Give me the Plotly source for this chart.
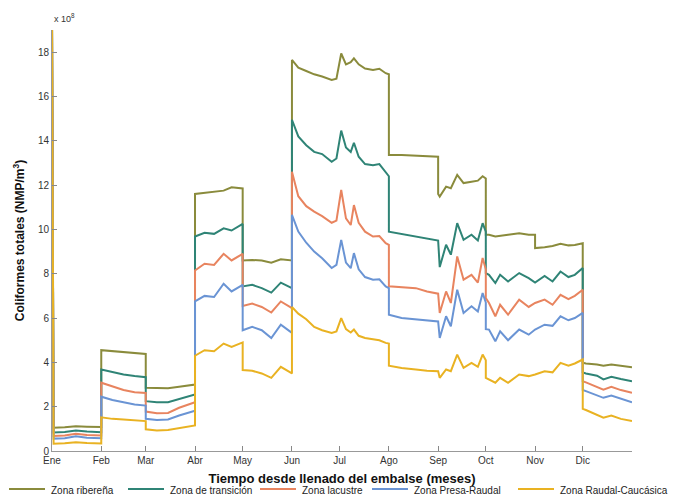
import plotly.graph_objects as go

days = [0, 1, 8, 15, 22, 31,
        31, 38, 45, 52, 59,
        59, 66, 73, 80, 90,
        90, 96, 102, 108, 113, 120,
        120, 126, 132, 138, 144, 151,
        151, 155, 160, 165, 170, 176, 179,
        182, 185, 188, 190, 193, 197, 202, 206, 210, 212,
        212, 220, 229, 236, 243,
        243, 244, 248, 251, 255, 259, 264, 268, 271, 273,
        273, 275, 279, 282, 287, 294, 300, 304,
        304, 310, 315, 320, 325, 329, 334,
        334, 336, 343, 347, 352, 358, 365]

ribera = [19.5, 1.05, 1.07, 1.12, 1.1, 1.08,
          4.55, 4.5, 4.45, 4.42, 4.38,
          2.85, 2.85, 2.83, 2.9, 3.0,
          11.6, 11.65, 11.7, 11.75, 11.9, 11.85,
          8.6, 8.62, 8.6, 8.5, 8.65, 8.6,
          17.65, 17.3, 17.15, 17.0, 16.9, 16.75, 16.8,
          17.94, 17.45, 17.55, 17.72, 17.45, 17.26, 17.2, 17.25, 17.05, 17.0,
          13.36, 13.36, 13.34, 13.32, 13.28,
          11.6, 11.48, 11.93, 11.86, 12.46, 12.09, 12.15, 12.2, 12.4, 12.3,
          9.76, 9.76, 9.68, 9.72, 9.76, 9.83, 9.76, 9.76,
          9.16, 9.2, 9.25, 9.35, 9.28, 9.3, 9.38,
          3.98, 3.95, 3.9, 3.85, 3.9, 3.85, 3.78]

transicion = [19.5, 0.84, 0.86, 0.92, 0.88, 0.85,
              3.68, 3.55, 3.45, 3.38, 3.33,
              2.25, 2.2, 2.2, 2.35, 2.55,
              9.68, 9.85, 9.8, 10.05, 9.95, 10.25,
              7.43, 7.5, 7.35, 7.15, 7.6, 7.35,
              14.95, 14.2, 13.8, 13.5, 13.4, 13.05, 13.2,
              14.46, 13.7, 13.5, 13.91, 13.28, 12.95, 12.9, 12.95, 12.55, 12.4,
              9.9, 9.8, 9.68, 9.6, 9.53,
              9.5, 8.3, 9.31, 8.86, 10.28, 9.53, 9.76, 9.5, 10.28, 9.9,
              8.03, 7.95, 7.58, 7.95, 7.65, 8.03, 7.8, 7.6,
              7.6, 7.9, 7.65, 8.1, 7.85, 7.95, 8.26,
              3.55, 3.5, 3.4, 3.23, 3.35, 3.25, 3.15]

lacustre = [19.5, 0.68, 0.7, 0.78, 0.72, 0.7,
            3.08, 2.9, 2.75, 2.65, 2.62,
            1.78, 1.7, 1.72, 1.95, 2.2,
            8.15, 8.45, 8.4, 8.9, 8.6, 8.9,
            6.55, 6.65, 6.5, 6.25, 6.75, 6.45,
            12.6, 11.5, 11.05, 10.8, 10.6, 10.3, 10.4,
            11.78, 10.5, 10.2, 11.1, 10.3, 9.9, 9.68, 9.7, 9.38, 9.3,
            7.43, 7.4, 7.35, 7.2, 7.13,
            7.1, 6.23, 7.2, 6.68, 8.78, 7.73, 7.95, 7.6, 8.71, 8.2,
            6.9, 6.68, 6.08, 6.6, 6.15, 6.83, 6.5, 6.68,
            6.68, 6.83, 6.6, 7.05, 6.85, 7.0, 7.28,
            3.15, 3.1, 2.9, 2.77, 2.9, 2.75, 2.63]

presa_raudal = [19.5, 0.56, 0.58, 0.66, 0.6, 0.58,
                2.45, 2.3, 2.2, 2.1, 2.05,
                1.45, 1.4, 1.42, 1.6, 1.82,
                6.75, 7.0, 6.95, 7.55, 7.2, 7.5,
                5.45, 5.6, 5.45, 5.1, 5.7, 5.33,
                10.66, 9.9, 9.4, 9.0, 8.7, 8.26, 8.4,
                9.53, 8.5, 8.25, 8.93, 8.2, 7.85, 7.73, 7.75, 7.43, 7.35,
                6.15, 6.0, 5.93, 5.9, 5.85,
                5.85, 5.1, 6.08, 5.63, 7.28, 6.23, 6.53, 6.3, 7.13, 6.7,
                5.5, 5.48, 4.95, 5.4, 5.0, 5.48, 5.25, 5.48,
                5.48, 5.7, 5.65, 6.08, 5.9, 6.0, 6.23,
                2.75, 2.7, 2.52, 2.4, 2.5, 2.35, 2.2]

raudal_caucasica = [19.5, 0.33, 0.35, 0.4, 0.36, 0.34,
                    1.52, 1.45, 1.42, 1.38, 1.35,
                    0.98, 0.93, 0.95, 1.02, 1.15,
                    4.3, 4.55, 4.5, 4.85, 4.7, 4.9,
                    3.65, 3.62, 3.5, 3.3, 3.8, 3.5,
                    6.5, 6.2, 5.95, 5.6, 5.45, 5.33, 5.4,
                    6.0, 5.5, 5.35, 5.48, 5.2, 5.1, 5.03, 5.0, 4.88, 4.85,
                    3.85, 3.75, 3.68, 3.62, 3.6,
                    3.6, 3.3, 3.68, 3.6, 4.35, 3.75, 3.98, 3.8, 4.35, 4.1,
                    3.3, 3.23, 3.08, 3.3, 3.08, 3.45, 3.38, 3.45,
                    3.45, 3.6, 3.55, 3.98, 3.85, 3.95, 4.13,
                    1.9, 1.85, 1.65, 1.5, 1.6, 1.45, 1.35]

series_names = ["Zona ribereña", "Zona de transición", "Zona lacustre",
                "Zona Presa-Raudal", "Zona Raudal-Caucásica"]
series_colors = ["#8a8b3c", "#2f8476", "#e8845f", "#6a94d4", "#e9b222"]

month_days = [0, 31, 59, 90, 120, 151, 181, 212, 243, 273, 304, 334]
month_labels = ["Ene", "Feb", "Mar", "Abr", "May", "Jun", "Jul", "Ago",
                "Sep", "Oct", "Nov", "Dic"]
y_ticks = [0, 2, 4, 6, 8, 10, 12, 14, 16, 18]

W, H = 683, 497
ML, MR, MT, MB = 52, 51, 30, 46
PW, PH = W - ML - MR, H - MT - MB

fig = go.Figure()
for name, vals, col in zip(series_names,
                           [ribera, transicion, lacustre, presa_raudal, raudal_caucasica],
                           series_colors):
    fig.add_trace(go.Scatter(x=days, y=vals, mode="lines", name=name,
                             line=dict(color=col, width=2)))

font_family = "Liberation Sans, Arial, sans-serif"
fig.update_layout(
    width=W, height=H,
    margin=dict(l=ML, r=MR, t=MT, b=MB, autoexpand=False),
    paper_bgcolor="white", plot_bgcolor="white",
    font=dict(family=font_family, size=10, color="#222"),
    showlegend=False,
)
fig.update_xaxes(range=[0, 365], tickmode="array", tickvals=month_days,
                 ticktext=month_labels, ticks="inside", ticklen=5,
                 tickcolor="#888", showline=True, linecolor="#999",
                 linewidth=1, showgrid=False, zeroline=False,
                 tickfont=dict(size=10, color="#333"),
                 title=dict(text="<b>Tiempo desde llenado del embalse (meses)</b>",
                            font=dict(size=13, color="#111"), standoff=8))
fig.update_yaxes(range=[0, 19], tickmode="array", tickvals=y_ticks,
                 ticks="inside", ticklen=5, tickcolor="#888",
                 showline=True, linecolor="#999", linewidth=1,
                 showgrid=False, zeroline=False,
                 tickfont=dict(size=10, color="#333"),
                 title=dict(text="<b>Coliformes totales (NMP/m<sup>3</sup>)</b>",
                            font=dict(size=12, color="#111"), standoff=10))
fig.add_annotation(text="x 10<sup>8</sup>", xref="paper", yref="paper",
                   x=0.0, y=1.0, xanchor="left", yanchor="bottom",
                   yshift=4, showarrow=False, font=dict(size=9, color="#333"))

# legend drawn below the axes (pixel layout converted to paper coordinates)
legend_line_px = [9, 128, 260, 372, 518]
line_len = 36
line_y = ((H - MB) - 489) / PH
text_y = ((H - MB) - 490) / PH
for name, col, lx in zip(series_names, series_colors, legend_line_px):
    x0 = (lx - ML) / PW
    x1 = (lx + line_len - ML) / PW
    fig.add_shape(type="line", xref="paper", yref="paper",
                  x0=x0, x1=x1, y0=line_y, y1=line_y,
                  line=dict(color=col, width=2))
    fig.add_annotation(text=name, xref="paper", yref="paper",
                       x=(lx + line_len + 4 - ML) / PW, y=text_y,
                       xanchor="left", yanchor="middle", showarrow=False,
                       font=dict(size=10, color="#222"))

fig.write_html("out.html")
